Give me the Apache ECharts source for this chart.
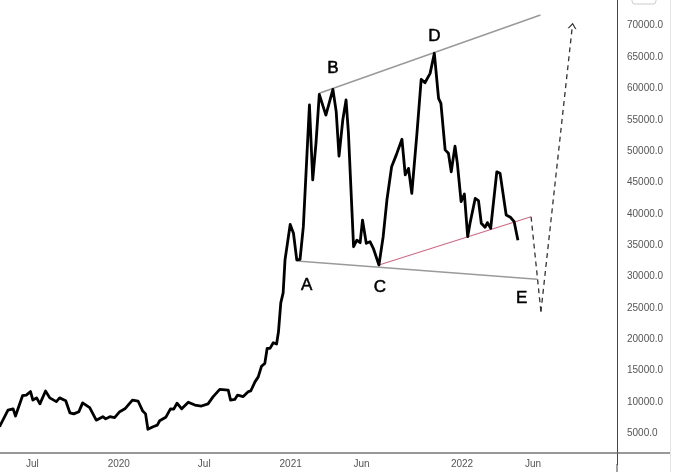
<!DOCTYPE html>
<html>
<head>
<meta charset="utf-8">
<script src="https://cdn.jsdelivr.net/npm/echarts@6/dist/echarts.min.js"></script>
<style>
  html, body { margin: 0; padding: 0; background: #fff; }
  #main { width: 680px; height: 472px; }
</style>
</head>
<body>
<div id="main"></div>
<script>
// price line
var priceDates = [
  '2019-04-22','2019-05-10','2019-05-21','2019-05-26','2019-06-10','2019-06-18','2019-06-27','2019-07-02','2019-07-10','2019-07-17',
  '2019-07-29','2019-08-07','2019-08-21','2019-08-28','2019-09-10','2019-09-19','2019-09-27','2019-10-08','2019-10-16','2019-10-31',
  '2019-11-14','2019-11-28','2019-12-04','2019-12-13','2019-12-23',
  '2020-01-03','2020-01-14','2020-01-30','2020-02-11','2020-02-21','2020-02-27','2020-03-03','2020-03-14','2020-03-23','2020-03-28',
  '2020-04-10','2020-04-20','2020-04-27','2020-05-04','2020-05-14','2020-05-28','2020-06-11','2020-06-25','2020-07-09','2020-07-20',
  '2020-08-03','2020-08-21','2020-08-26','2020-09-04','2020-09-10','2020-09-22','2020-10-03','2020-10-08','2020-10-17','2020-10-24',
  '2020-10-31','2020-11-07','2020-11-12','2020-11-18','2020-11-25','2020-12-02','2020-12-06','2020-12-11','2020-12-16','2020-12-20',
  '2020-12-31',
  '2021-01-07','2021-01-14','2021-01-21','2021-01-28','2021-02-10','2021-02-17','2021-02-24','2021-03-03','2021-03-17','2021-04-01',
  '2021-04-08','2021-04-14','2021-04-22','2021-04-29','2021-05-04','2021-05-15','2021-05-22','2021-05-29','2021-06-03','2021-06-11',
  '2021-06-19','2021-06-26','2021-07-08','2021-07-17','2021-07-25','2021-08-04','2021-08-14','2021-08-18','2021-08-26','2021-09-02',
  '2021-09-09','2021-09-16','2021-09-27','2021-10-06','2021-10-14','2021-10-25','2021-11-03','2021-11-12','2021-11-17','2021-11-26',
  '2021-12-03','2021-12-09','2021-12-17','2021-12-22','2021-12-30',
  '2022-01-06','2022-01-13','2022-01-18','2022-01-29','2022-02-05','2022-02-11','2022-02-19','2022-02-24','2022-03-03','2022-03-16',
  '2022-03-23','2022-04-05','2022-04-14','2022-04-22','2022-04-30'
];
var priceValues = [
  6050, 8700, 8900, 7750, 11000, 11100, 11650, 10300, 10650, 9700,
  11750, 10650, 10050, 10650, 10200, 8250, 8100, 8450, 9850, 9100,
  7100, 7650, 7300, 7650, 7500,
  8450, 8900, 10300, 10150, 8550, 8100, 5650, 6050, 6300, 7000,
  7550, 8900, 8850, 9800, 8900, 9950, 9500, 9350, 9700, 10850,
  12000, 11900, 10300, 10400, 11100, 10850, 11650, 11750, 13200, 14000,
  15700, 16150, 18550, 18550, 19450, 19250, 21150, 25800, 27400, 32650,
  38300,
  36900, 32650, 32750, 37950, 57350, 45400, 51300, 59050, 55750, 59850,
  56300, 49200, 54950, 58150, 52900, 34750, 35800, 35400, 39000, 35300,
  35550, 34500, 31850, 36350, 42200, 47500, 49400, 49100, 51900, 46200,
  47250, 43250, 52850, 61450, 60900, 62400, 65600, 58400, 57600, 50200,
  49650, 46700, 50800, 48050, 41950,
  43150, 36350, 38500, 42450, 42100, 38500, 37850, 38600, 37700, 46700,
  46450, 39800, 39450, 38750, 35800
];

// x axis ticks
var tickDates = ['2019-07-01', '2020-01-01', '2020-07-01', '2021-01-01', '2021-06-01', '2022-01-01', '2022-06-01'];
var tickLabels = ['Jul', '2020', 'Jul', '2021', 'Jun', '2022', 'Jun'];

// drawn trend lines
var upperDates = ['2021-03-03', '2022-06-17'];
var upperValues = [59220, 71700];
var lowerDates = ['2021-01-14', '2022-06-10'];
var lowerValues = [32480, 29560];
var supportDates = ['2021-07-08', '2022-05-28'];
var supportValues = [31840, 39540];
// dashed projection (down to E, then up)
var pathDates = ['2022-05-28', '2022-06-18', '2022-08-24'];
var pathValues = [39540, 24390, 70000];

// wave letters
var waveNames = ['A', 'B', 'C', 'D', 'E'];
var waveDates = ['2021-02-04', '2021-04-01', '2021-07-10', '2021-11-03', '2022-05-08'];
var waveValues = [28650, 63250, 28330, 68360, 26530];

function toTime(s) {
  return new Date(s + 'T00:00:00').getTime();
}
function pairs(dates, values) {
  return dates.map(function (d, i) { return [toTime(d), values[i]]; });
}

var tickTimes = tickDates.map(toTime);
var pathPts = pairs(pathDates, pathValues);
var chevron = 'path://M0,8 L5,0 L10,8 L8.4,8 L5,2.6 L1.6,8 Z';

var myChart = echarts.init(document.getElementById('main'));

var option = {
  animation: false,
  backgroundColor: '#fff',
  grid: {
    left: 0,
    right: 63,
    top: -5.66,
    bottom: 7.34,
    containLabel: false,
    outerBoundsMode: 'none'
  },
  // timestamps on a plain value axis, labels placed by hand-picked ticks
  xAxis: {
    type: 'value',
    min: toTime('2019-04-23'),
    max: toTime('2022-11-27'),
    offset: -11.66,
    axisLine: { show: true, lineStyle: { color: '#777', width: 1.6 } },
    axisTick: { show: false },
    splitLine: { show: false },
    axisLabel: {
      customValues: tickTimes,
      hideOverlap: false,
      margin: 6,
      color: '#555',
      fontSize: 10,
      fontFamily: 'Liberation Sans',
      formatter: function (v) {
        var i = tickTimes.indexOf(v);
        return i >= 0 ? tickLabels[i] : '';
      }
    }
  },
  yAxis: {
    type: 'value',
    position: 'right',
    min: 0,
    max: 75000,
    interval: 5000,
    axisLine: { show: true, lineStyle: { color: '#444', width: 1 } },
    axisTick: { show: false },
    splitLine: { show: false },
    axisLabel: {
      showMinLabel: false,
      showMaxLabel: false,
      margin: 10,
      color: '#555',
      fontSize: 10,
      fontFamily: 'Liberation Sans',
      formatter: function (v) { return v.toFixed(1); }
    }
  },
  graphic: [
    { type: 'line', shape: { x1: 617, y1: 453, x2: 670, y2: 453 }, style: { stroke: '#777', lineWidth: 1.6 }, silent: true },
    { type: 'line', shape: { x1: 617, y1: 464, x2: 617, y2: 472 }, style: { stroke: '#444', lineWidth: 1 }, silent: true },
    { type: 'line', shape: { x1: 670.5, y1: 0, x2: 670.5, y2: 472 }, style: { stroke: '#e4e4e4', lineWidth: 1 }, silent: true },
    { type: 'rect', shape: { x: 632, y: -6, width: 24, height: 10, r: 3 }, style: { fill: '#fff', stroke: '#ccc', lineWidth: 1 }, silent: true }
  ],
  series: [
    {
      name: 'upper',
      type: 'line',
      data: pairs(upperDates, upperValues),
      symbol: 'none',
      silent: true,
      lineStyle: { color: '#9a9a9a', width: 1.6 }
    },
    {
      name: 'lower',
      type: 'line',
      data: pairs(lowerDates, lowerValues),
      symbol: 'none',
      silent: true,
      lineStyle: { color: '#9a9a9a', width: 1.6 }
    },
    {
      name: 'support',
      type: 'line',
      data: pairs(supportDates, supportValues),
      symbol: 'none',
      silent: true,
      lineStyle: { color: '#cc6a84', width: 1.1 },
      markLine: {
        silent: true,
        animation: false,
        symbol: ['none', 'none'],
        label: { show: false },
        lineStyle: { color: '#333', type: [5, 4], width: 1.3 },
        data: [
          [{ coord: pathPts[0] }, { coord: pathPts[1] }],
          [{ coord: pathPts[1] }, { coord: pathPts[2], symbol: chevron, symbolSize: [9, 6] }]
        ]
      }
    },
    {
      name: 'price',
      type: 'line',
      data: pairs(priceDates, priceValues),
      symbol: 'none',
      silent: true,
      lineStyle: { color: '#000', width: 2.8, join: 'round' }
    },
    {
      name: 'waves',
      type: 'scatter',
      symbolSize: 0,
      silent: true,
      itemStyle: { color: '#000', opacity: 1 },
      data: waveNames.map(function (n, i) {
        return { name: n, value: [toTime(waveDates[i]), waveValues[i]] };
      }),
      label: {
        show: true,
        position: 'inside',
        formatter: '{b}',
        color: '#000',
        opacity: 1,
        fontSize: 17,
        fontFamily: 'Liberation Sans',
        textBorderColor: '#000',
        textBorderWidth: 0.5
      }
    }
  ]
};

myChart.setOption(option);
</script>
</body>
</html>
